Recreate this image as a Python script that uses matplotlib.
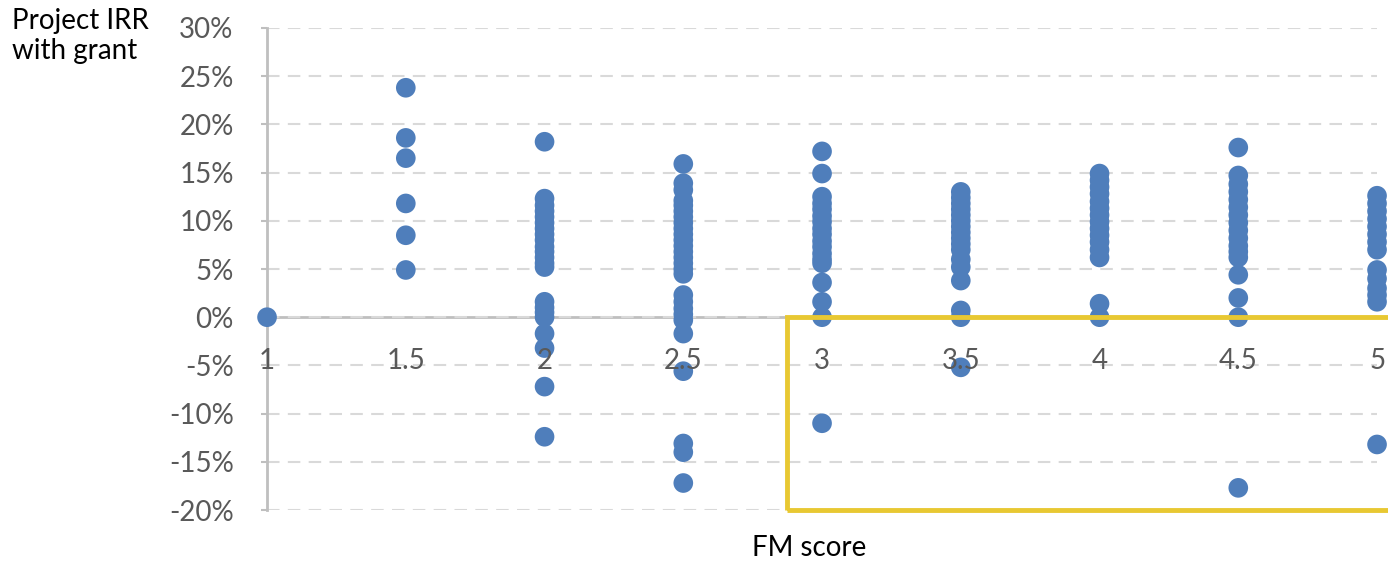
import matplotlib
matplotlib.use("Agg")
import matplotlib.pyplot as plt
from matplotlib.patches import Rectangle
from matplotlib.ticker import FuncFormatter

plt.rcParams['font.family'] = ['Lato', 'DejaVu Sans']

# project IRR with grant (%) by FM score
fm_scores = [1, 1.5, 2, 2.5, 3, 3.5, 4, 4.5, 5]
irr_1 = [0.0]
irr_1_5 = [23.8, 18.6, 16.5, 11.8, 8.5, 4.9]
irr_2 = [18.2, 12.3, 11.6, 11.0, 10.4, 9.8, 9.2, 8.6, 8.0, 7.3, 6.8, 6.2, 5.6, 5.2,
         1.6, 1.0, 0.5, 0.0, -1.7, -3.2, -7.2, -12.4]
irr_2_5 = [15.9, 13.9, 13.2, 12.1, 11.6, 11.0, 10.4, 9.8, 9.2, 8.6, 8.0, 7.4, 6.8, 6.2,
           5.6, 5.0, 4.5, 2.3, 1.6, 0.9, 0.3, -0.3, -1.7, -5.6, -13.1, -14.0, -17.2]
irr_3 = [17.2, 14.9, 12.5, 11.8, 11.2, 10.5, 9.9, 9.2, 8.6, 7.9, 7.3, 6.6, 6.0, 5.6,
         3.6, 1.6, 0.0, -11.0]
irr_3_5 = [13.0, 12.4, 11.8, 11.2, 10.6, 10.0, 9.4, 8.8, 8.2, 7.6, 7.0, 6.0, 5.2, 3.8,
           0.7, 0.0, -5.2]
irr_4 = [14.9, 14.2, 13.5, 12.8, 12.0, 11.3, 10.6, 9.9, 9.2, 8.5, 7.8, 7.0, 6.2, 1.4, 0.0]
irr_4_5 = [17.6, 14.7, 13.8, 13.0, 12.2, 11.4, 10.6, 9.8, 9.0, 8.2, 7.4, 6.8, 6.2, 4.4,
           2.0, 0.0, -17.7]
irr_5 = [12.6, 11.8, 11.0, 10.2, 9.4, 8.6, 7.8, 7.0, 4.9, 4.0, 3.0, 2.3, 1.6, -13.2]
irr_by_score = [irr_1, irr_1_5, irr_2, irr_2_5, irr_3, irr_3_5, irr_4, irr_4_5, irr_5]

y_ticks = [-20, -15, -10, -5, 0, 5, 10, 15, 20, 25, 30]

fig = plt.figure(figsize=(13.88, 5.62), dpi=100)
ax = fig.add_axes([0.1924, 0.0925, 0.7997, 0.8577])

for score, vals in zip(fm_scores, irr_by_score):
    ax.scatter([score] * len(vals), vals, s=200, color='#4F7EBB', edgecolors='none',
               zorder=3, clip_on=False)

ax.set_xlim(1, 5)
ax.set_ylim(-20, 30)
ax.set_yticks(y_ticks)
ax.yaxis.set_major_formatter(FuncFormatter(lambda v, p: f"{v:.0f}%"))
ax.set_xticks(fm_scores)
ax.set_xticklabels([f"{s:g}" for s in fm_scores])

ax.grid(axis='y', color='#D9D9D9', linestyle=(0, (6, 4)), linewidth=1.5, zorder=0)
ax.grid(axis='x', visible=False)

for side in ['top', 'right']:
    ax.spines[side].set_visible(False)
ax.spines['left'].set_color('#BFBFBF')
ax.spines['left'].set_linewidth(2)
ax.spines['bottom'].set_position(('data', 0))
ax.spines['bottom'].set_color('#BFBFBF')
ax.spines['bottom'].set_linewidth(2)
ax.spines['bottom'].set_zorder(1)

ax.tick_params(axis='x', length=0, pad=22, labelsize=20, labelcolor='#595959')
ax.tick_params(axis='y', direction='out', length=4, width=1.5, color='#BFBFBF',
               pad=20, labelsize=20, labelcolor='#595959')
# x tick labels sit on top of the dots
ax.xaxis.set_zorder(5)

# highlight box: FM score >= 3 with negative IRR
box = Rectangle((2.875, -20), 2.3, 20, fill=False, edgecolor='#E8C832', linewidth=3.5,
                zorder=4, clip_on=False)
ax.add_patch(box)

fig.text(0.009, 0.985, "Project IRR\nwith grant", ha='left', va='top', fontsize=20,
         color='black', linespacing=1.15)
fig.text(0.583, 0.025, "FM score", ha='center', va='center', fontsize=20, color='black')

fig.savefig("out.png", dpi=100)
